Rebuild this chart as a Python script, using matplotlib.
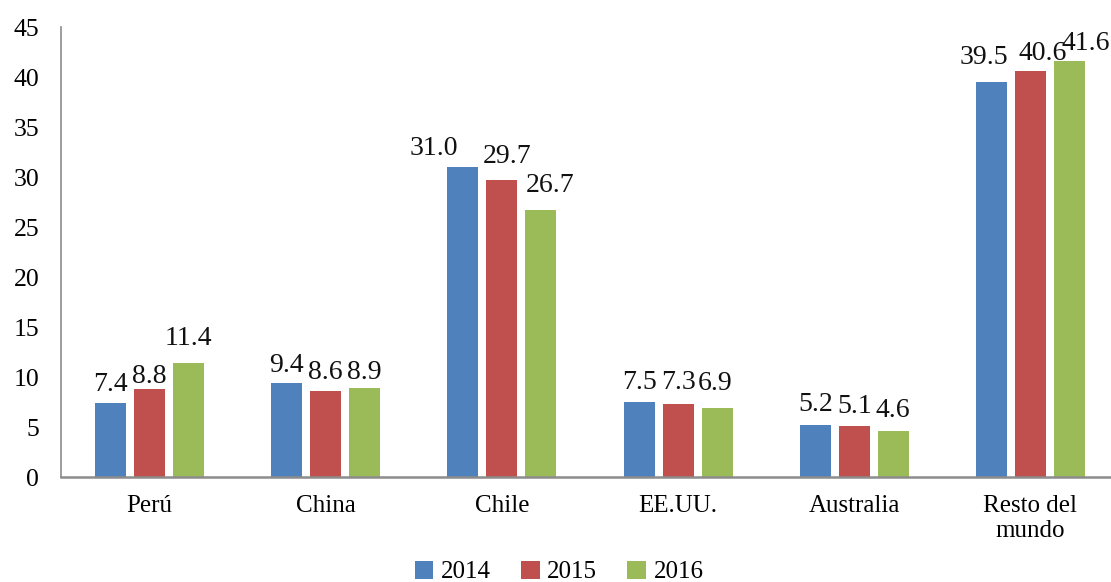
import matplotlib
matplotlib.use("Agg")
import matplotlib.pyplot as plt
import numpy as np
from matplotlib.patches import Patch

categories = ["Perú", "China", "Chile", "EE.UU.", "Australia", "Resto del\nmundo"]
years = ["2014", "2015", "2016"]
v2014 = [7.4, 9.4, 31.0, 7.5, 5.2, 39.5]
v2015 = [8.8, 8.6, 29.7, 7.3, 5.1, 40.6]
v2016 = [11.4, 8.9, 26.7, 6.9, 4.6, 41.6]
yticks = [0, 5, 10, 15, 20, 25, 30, 35, 40, 45]
colors = ["#4F81BD", "#C0504D", "#9BBB59"]

# label placement offsets (pixels) as positioned in the original chart
label_dx = [[0, 0, -29, 0, 0, -8],
            [0, 0, 5, 0, 0, 12],
            [0, 0, 9, -2, 0, 16]]
label_dy = [[12, 11, 12, 13, 14, 18],
            [6, 12, 17, 15, 13, 11],
            [18, 9, 18, 18, 14, 11]]

plt.rcParams['font.family'] = ['Liberation Serif', 'DejaVu Serif']

W, H = 1111, 582
fig = plt.figure(figsize=(W / 100, H / 100), dpi=100)
left, right, bottom, top = 61.4, 1118.6, 477, 27
ax = fig.add_axes([left / W, (H - bottom) / H, (right - left) / W, (bottom - top) / H])

x = np.arange(len(categories))
bw = 0.176
step = 0.2213
series = [v2014, v2015, v2016]
for i, (vals, c) in enumerate(zip(series, colors)):
    pos = x + (i - 1) * step
    ax.bar(pos, vals, width=bw, color=c, label=years[i], zorder=2)
    for j, (xx, v) in enumerate(zip(pos, vals)):
        ax.annotate(f"{v:.1f}", xy=(xx, v), xytext=(label_dx[i][j] * 0.72, label_dy[i][j] * 0.72),
                    textcoords="offset points", ha="center", va="baseline",
                    fontsize=20, color="#111111", annotation_clip=False)

ax.set_xlim(-0.5, len(categories) - 0.5)
ax.set_ylim(0, 45)
ax.set_yticks(yticks)
ax.set_yticklabels([str(t) for t in yticks], fontsize=18.5)
ax.set_xticks(x)
ax.set_xticklabels(categories, fontsize=18, linespacing=1.15)
ax.tick_params(axis="y", length=0, pad=16)
ax.tick_params(axis="x", length=0, pad=13)

for s in ["top", "right"]:
    ax.spines[s].set_visible(False)
ax.spines["left"].set_color("#8c8c8c")
ax.spines["bottom"].set_color("#8c8c8c")
ax.spines["left"].set_linewidth(1.2)
ax.spines["bottom"].set_linewidth(1.8)

handles = [Patch(facecolor=c, edgecolor="none") for c in colors]
fig.legend(handles, years, loc="center", bbox_to_anchor=(559 / W, (H - 572) / H),
           ncol=3, frameon=False, fontsize=18, handlelength=0.75, handleheight=0.75,
           handletextpad=0.3, columnspacing=1.2, borderaxespad=0)

fig.savefig("out.png", dpi=100)
